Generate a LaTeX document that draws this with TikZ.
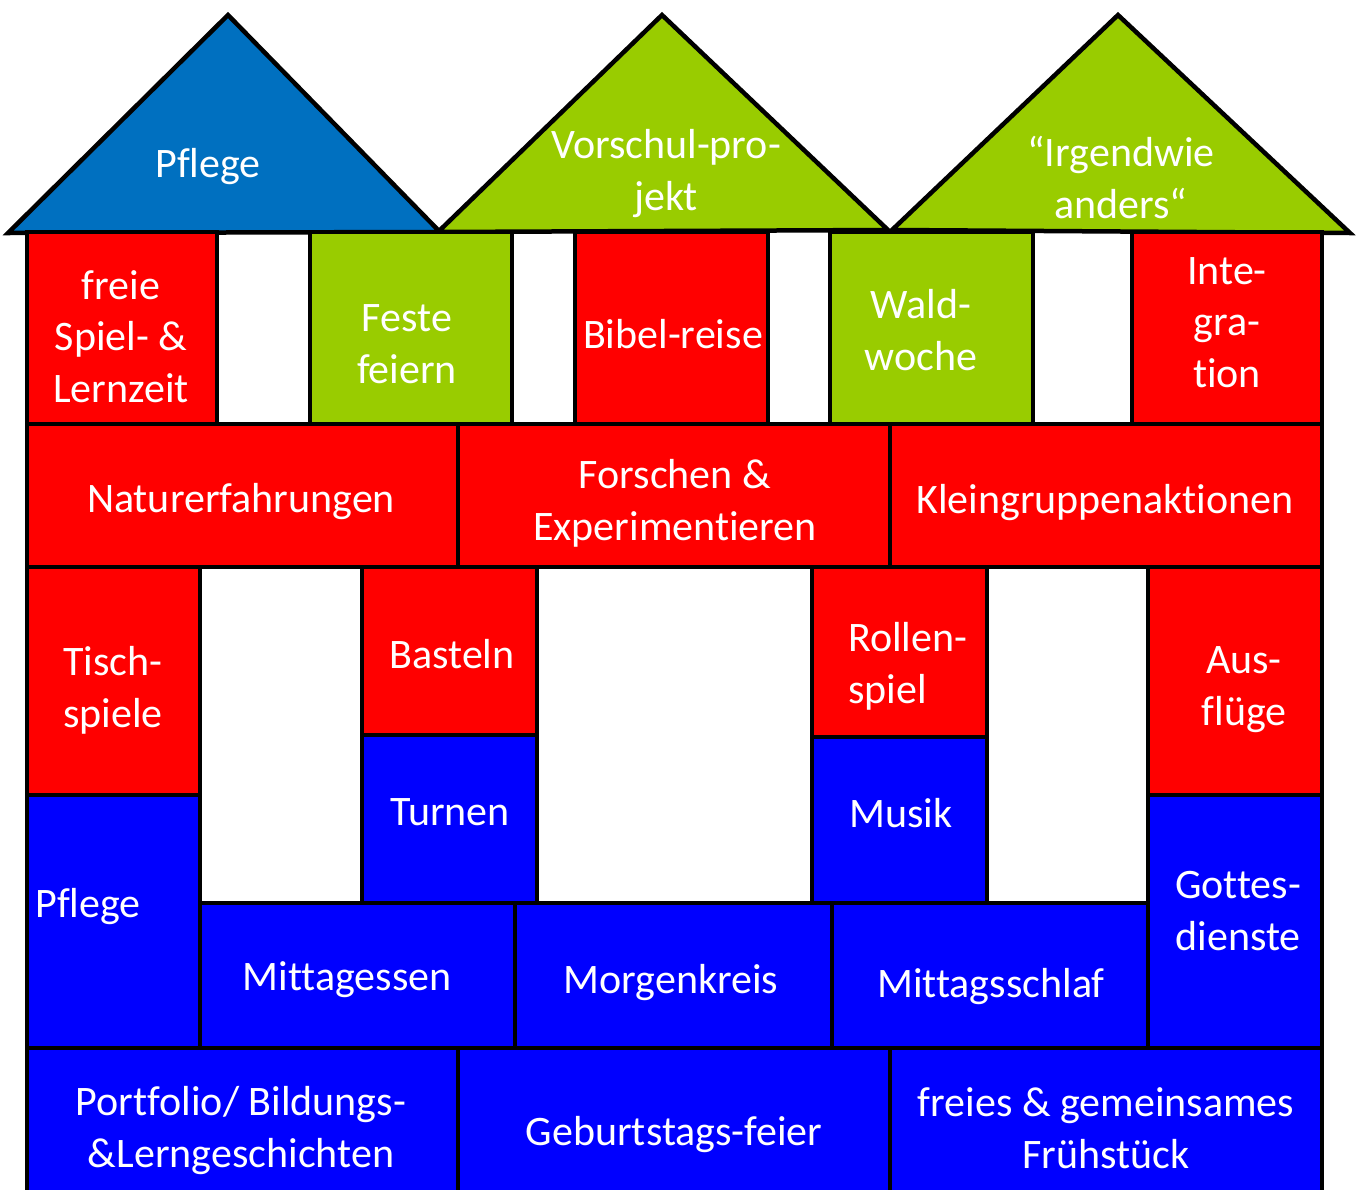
\documentclass[tikz,border=0pt]{standalone}
\usepackage{fontspec}
\setmainfont{Carlito}[Ligatures=NoCommon]
\definecolor{kred}{HTML}{FF0000}
\definecolor{kblue}{HTML}{0000FF}
\definecolor{kgreen}{HTML}{99CC00}
\definecolor{roofblue}{HTML}{0070C0}
\newcommand\kbx[6]{\node[#1, minimum width={#5-#3}, minimum height={#6-#4}] (#2) at (#3,#4) {};}
\begin{document}
\begin{tikzpicture}[x=1pt,y=-1pt,
  box/.style={draw=black, line width=4.5pt, inner sep=0pt, outer sep=0pt, anchor=north west},
  rbox/.style={box, fill=kred},
  bbox/.style={box, fill=kblue},
  gbox/.style={box, fill=kgreen},
  lbl/.style={text=white, font=\fontsize{42}{51.5}\selectfont, inner sep=0pt, align=center, anchor=base},
  roof/.style={draw=black, line width=4.5pt, line join=miter},
]
\clip (0,0) rectangle (1360,1189);
\fill[white] (0,0) rectangle (1360,1189);
% roofs
\draw[roof, fill=roofblue] (8,233) -- (228,15) -- (440,232) -- cycle;
\draw[roof, fill=kgreen] (438,232) -- (662,15) -- (888,230) -- cycle;
\draw[roof, fill=kgreen] (892,230) -- (1118,15) -- (1350,233) -- cycle;
% row 1
\kbx{rbox}{freie}{27}{232}{217}{424}
\kbx{gbox}{feste}{310}{232}{512}{424}
\kbx{rbox}{bibel}{575}{232}{768}{424}
\kbx{gbox}{wald}{830}{232}{1033}{424}
\kbx{rbox}{integ}{1132}{232}{1322}{424}
% row 2
\kbx{rbox}{natur}{27}{424}{458}{567}
\kbx{rbox}{forsch}{458}{424}{890}{567}
\kbx{rbox}{klein}{890}{424}{1322}{567}
% row 3
\kbx{rbox}{tisch}{27}{567}{200}{795}
\kbx{rbox}{bast}{362}{567}{537}{735}
\kbx{bbox}{turn}{362}{735}{537}{903}
\kbx{rbox}{rollen}{812}{567}{987}{737}
\kbx{bbox}{musik}{812}{737}{987}{903}
\kbx{rbox}{ausfl}{1148}{567}{1322}{795}
\kbx{bbox}{pflegeb}{27}{795}{200}{1048}
\kbx{bbox}{gottes}{1148}{795}{1322}{1048}
\kbx{bbox}{mittag}{200}{903}{515}{1048}
\kbx{bbox}{morgen}{515}{903}{832}{1048}
\kbx{bbox}{schlaf}{832}{903}{1148}{1048}
% bottom row
\kbx{bbox}{portf}{27}{1048}{458}{1200}
\kbx{bbox}{geburt}{458}{1048}{890}{1200}
\kbx{bbox}{fruehst}{890}{1048}{1322}{1200}
% labels (anchor=base of a multi-line label is the baseline of its last line)
\node[lbl] (t-roof1) at (208,177) {Pflege};
\node[lbl] (t-roof2) at (666,210) {Vorschul-pro-\\jekt};
\node[lbl] (t-roof3) at (1121,218) {“Irgendwie\\anders“};
\node[lbl] (t-freie) at (121,402) {freie\\Spiel- \&\\Lernzeit};
\node[lbl] (t-feste) at (407,383) {Feste\\feiern};
\node[lbl] (t-bibel) at (673,348) {Bibel-reise};
\node[lbl] (t-wald) at (921,370) {Wald-\\woche};
\node[lbl] (t-integ) at (1227,387) {Inte-\\gra-\\tion};
\node[lbl] (t-natur) at (241,512) {Naturerfahrungen};
\node[lbl] (t-forsch) at (675,540) {Forschen \&\\Experimentieren};
\node[lbl] (t-klein) at (1105,513) {Kleingruppenaktionen};
\node[lbl] (t-tisch) at (113,727) {Tisch-\\spiele};
\node[lbl] (t-bast) at (452,668) {Basteln};
\node[lbl, align=left, anchor=base west] (t-rollen) at (848,703) {Rollen-\\spiel};
\node[lbl] (t-ausfl) at (1244,725) {Aus-\\flüge};
\node[lbl] (t-turn) at (450,825) {Turnen};
\node[lbl] (t-musik) at (901,827) {Musik};
\node[lbl, anchor=base west] (t-pflegeb) at (35,917) {Pflege};
\node[lbl] (t-gottes) at (1238,950) {Gottes-\\dienste};
\node[lbl] (t-mittag) at (347,990) {Mittagessen};
\node[lbl] (t-morgen) at (671,993) {Morgenkreis};
\node[lbl] (t-schlaf) at (991,997) {Mittagsschlaf};
\node[lbl] (t-portf) at (241,1167) {Portfolio/ Bildungs-\\\&Lerngeschichten};
\node[lbl] (t-geburt) at (674,1145) {Geburtstags-feier};
\node[lbl] (t-fruehst) at (1106,1168) {freies \& gemeinsames\\Frühstück};
\end{tikzpicture}
\end{document}
